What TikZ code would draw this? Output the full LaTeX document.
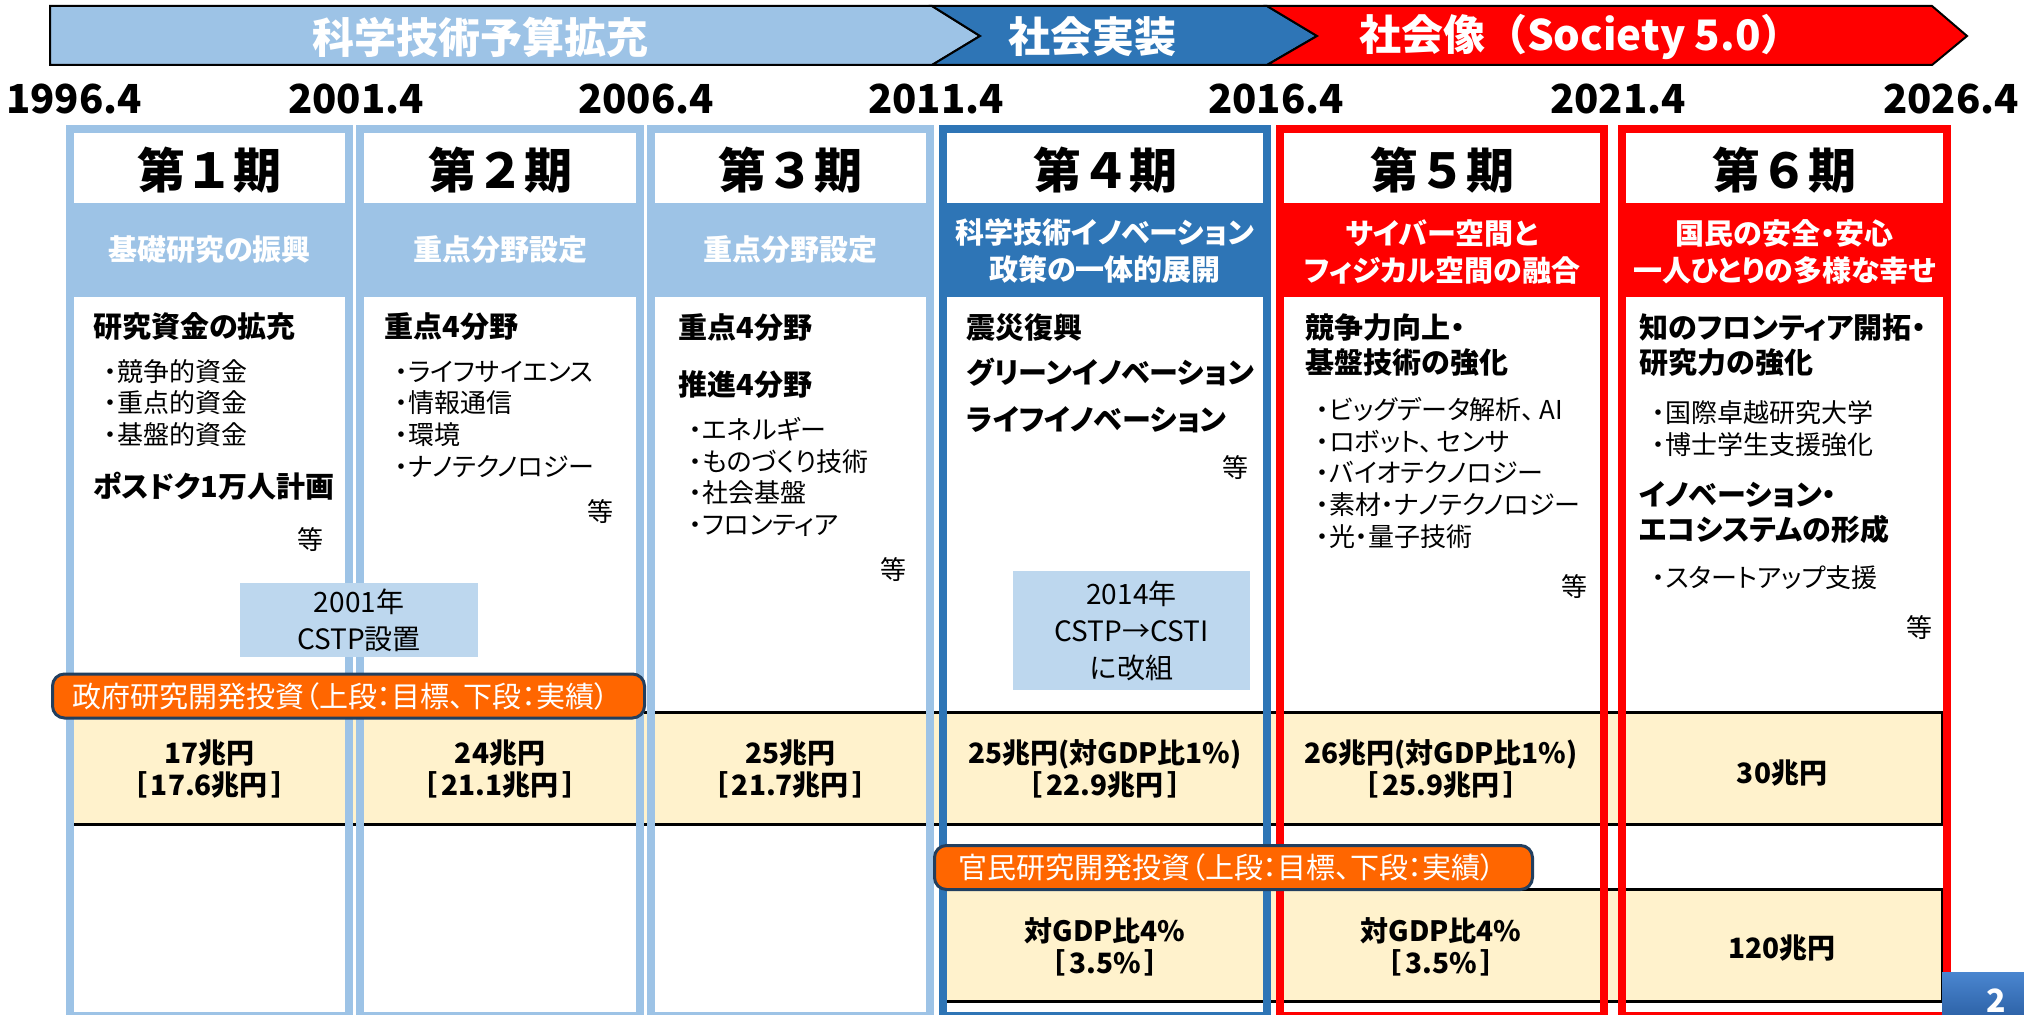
\documentclass[tikz,border=0pt]{standalone}
\usepackage{fontspec}
\setmainfont{Noto Sans CJK JP}
\newfontfamily\jp{Noto Sans CJK JP}[RawFeature=+palt]
\definecolor{lb}{HTML}{9DC3E6}
\definecolor{db}{HTML}{2E75B6}
\definecolor{rd}{HTML}{FF0000}
\definecolor{yel}{HTML}{FFF2CC}
\definecolor{org}{HTML}{FF6600}
\definecolor{navy}{HTML}{223F5F}
\definecolor{cbx}{HTML}{BDD7EE}
\definecolor{pgtop}{HTML}{4A86D0}
\definecolor{pgbot}{HTML}{2E63A8}
\newcommand\bsp{\hspace{2pt}}
\tikzset{
  banner/.style={draw=black, line width=1pt, line join=miter},
  bantext/.style={text=white, font=\fontsize{21}{21}\selectfont\bfseries, inner sep=0},
  year/.style={font=\fontsize{20}{20}\selectfont\bfseries, inner sep=0},
  ttl/.style={font=\fontsize{24}{24}\selectfont\bfseries, inner sep=0},
  subt/.style={text=white, font=\jp\fontsize{14.5}{18.5}\selectfont\bfseries, align=center, inner sep=0},
  hd/.style={font=\jp\fontsize{14.5}{17}\selectfont\bfseries, inner sep=0, anchor=base west},
  itm/.style={font=\jp\fontsize{13}{16}\selectfont, inner sep=0, anchor=base west},
  etc/.style={font=\jp\fontsize{13}{16}\selectfont, inner sep=0},
  cbox/.style={fill=cbx, font=\jp\fontsize{14}{18.5}\selectfont, align=center, inner sep=0},
  olab/.style={draw=navy, line width=1.5pt, fill=org, rounded corners=6pt, text=white,
    font=\jp\fontsize{14.5}{16}\selectfont, anchor=west, align=left, minimum height=22pt, inner ysep=0},
  val/.style={font=\fontsize{14}{16}\selectfont\bfseries, align=center, inner sep=0},
  yrow/.style={fill=yel, draw=black, line width=1.5pt},
}
\begin{document}
\begin{tikzpicture}[x=0.5pt,y=-0.5pt]
\useasboundingbox (0,0) rectangle (2024,1015);
\fill[white] (0,0) rectangle (2024,1015);

% ---- banner ----
\path[banner, fill=lb] (50,6) -- (932,6) -- (980,36) -- (932,65) -- (50,65) -- cycle;
\path[banner, fill=db] (932,6) -- (1267,6) -- (1317,36) -- (1267,65) -- (932,65) -- (980,36) -- cycle;
\path[banner, fill=rd] (1267,6) -- (1932,6) -- (1967,36) -- (1932,65) -- (1267,65) -- (1317,36) -- cycle;
\node[bantext] (ban1) at (480,37) {科学技術予算拡充};
\node[bantext] (ban2) at (1092,37) {社会実装};
\node[bantext] (ban3) at (1581,37) {社会像（Society 5.0）};

% ---- years ----
\node[year] (y1) at (74,99) {1996.4};
\node[year] (y2) at (356,99) {2001.4};
\node[year] (y3) at (646,99) {2006.4};
\node[year] (y4) at (936,99) {2011.4};
\node[year] (y5) at (1276,99) {2016.4};
\node[year] (y6) at (1618,99) {2021.4};
\node[year] (y7) at (1951,99) {2026.4};

% ---- period columns ----
\foreach \xl/\xr/\c in {66/353/lb,356/644/lb,647/934/lb,939/1271/db,1276/1608/rd,1618/1951/rd}{
  \fill[\c] (\xl,125) rectangle (\xr,1030);
  \fill[white] (\xl+8,133) rectangle (\xr-8,203);
  \fill[white] (\xl+8,297) rectangle (\xr-8,1012);
}

% ---- budget rows ----
\draw[yrow] (70,712) rectangle (1942,824);
\draw[yrow] (943,889) rectangle (1942,1001);

% column side strips over the rows
\foreach \xl/\xr/\c in {66/353/lb,356/644/lb,647/934/lb,939/1271/db,1276/1608/rd,1618/1951/rd}{
  \fill[\c] (\xl,125) rectangle (\xl+8,1030);
  \fill[\c] (\xr-8,125) rectangle (\xr,1030);
}

% ---- titles ----
\node[ttl] (t1) at (209.5,170) {第１期};
\node[ttl] (t2) at (500,170) {第２期};
\node[ttl] (t3) at (790.5,170) {第３期};
\node[ttl] (t4) at (1105,170) {第４期};
\node[ttl] (t5) at (1442,170) {第５期};
\node[ttl] (t6) at (1784.5,170) {第６期};

% ---- subtitles ----
\node[subt] (s1) at (209.5,250) {基礎研究の振興};
\node[subt] (s2) at (500,250) {重点分野設定};
\node[subt] (s3) at (790.5,250) {重点分野設定};
\node[subt] (s4) at (1105,251) {科学技術イノベーション\\政策の一体的展開};
\node[subt] (s5) at (1442,252) {サイバー空間と\\フィジカル空間の融合};
\node[subt] (s6) at (1784.5,252) {国民の安全・安心\\一人ひとりの多様な幸せ};

% ---- column 1 ----
\node[hd] (c1h1) at (93,338) {研究資金の拡充};
\node[itm] (c1i1) at (104,382) {・競争的資金};
\node[itm] (c1i2) at (104,413) {・重点的資金};
\node[itm] (c1i3) at (104,445) {・基盤的資金};
\node[hd] (c1h2) at (93,498) {ポスドク1万人計画};
\node[etc] (c1e) at (310,540) {等};

% ---- column 2 ----
\node[hd] (c2h1) at (384,338) {重点4分野};
\node[itm] (c2i1) at (395,382) {・ライフサイエンス};
\node[itm] (c2i2) at (395,413) {・情報通信};
\node[itm] (c2i3) at (395,445) {・環境};
\node[itm] (c2i4) at (395,477) {・ナノテクノロジー};
\node[etc] (c2e) at (600,512) {等};

% ---- column 3 ----
\node[hd] (c3h1) at (678,339) {重点4分野};
\node[hd] (c3h2) at (678,396) {推進4分野};
\node[itm] (c3i1) at (689,440) {・エネルギー};
\node[itm] (c3i2) at (689,472) {・ものづくり技術};
\node[itm] (c3i3) at (689,503) {・社会基盤};
\node[itm] (c3i4) at (689,535) {・フロンティア};
\node[etc] (c3e) at (893,570) {等};

% ---- column 4 ----
\node[hd] (c4h1) at (966,339) {震災復興};
\node[hd] (c4h2) at (966,384) {グリーンイノベーション};
\node[hd] (c4h3) at (966,431) {ライフイノベーション};
\node[etc] (c4e) at (1235,468) {等};

% ---- column 5 ----
\node[hd] (c5h1) at (1305,339) {競争力向上・};
\node[hd] (c5h2) at (1305,374) {基盤技術の強化};
\node[itm] (c5i1) at (1316,420) {・ビッグデータ解析、\,AI};
\node[itm] (c5i2) at (1316,452) {・ロボット、\,センサ};
\node[itm] (c5i3) at (1316,483) {・バイオテクノロジー};
\node[itm] (c5i4) at (1316,515) {・素材・ナノテクノロジー};
\node[itm] (c5i5) at (1316,547) {・光・量子技術};
\node[etc] (c5e) at (1574,587) {等};

% ---- column 6 ----
\node[hd] (c6h1) at (1639,339) {知のフロンティア開拓・};
\node[hd] (c6h2) at (1639,374) {研究力の強化};
\node[itm] (c6i1) at (1652,423) {・国際卓越研究大学};
\node[itm] (c6i2) at (1652,455) {・博士学生支援強化};
\node[hd] (c6h3) at (1639,506) {イノベーション・};
\node[hd] (c6h4) at (1639,541) {エコシステムの形成};
\node[itm] (c6i3) at (1652,588) {・スタートアップ支援};
\node[etc] (c6e) at (1919,628) {等};

% ---- CSTP boxes ----
\node[cbox, minimum width=119pt, minimum height=37pt] (cstp1) at (359,620) {2001年\\CSTP設置};
\node[cbox, minimum width=118.5pt, minimum height=59.5pt] (cstp2) at (1131.5,630.5) {2014年\\CSTP→CSTI\\に改組};

% ---- labels ----
\node[olab, text width=276pt, inner xsep=10pt] (lab1) at (51,696) {政府研究開発投資（上段：目標、下段：実績）};
\node[olab, text width=275pt, inner xsep=12pt] (lab2) at (933,867.5) {官民研究開発投資（上段：目標、下段：実績）};

% ---- values row 1 ----
\node[val] (v1) at (209.5,769) {17兆円\\［\bsp 17.6兆円\bsp］};
\node[val] (v2) at (500,769) {24兆円\\［\bsp 21.1兆円\bsp］};
\node[val] (v3) at (790.5,769) {25兆円\\［\bsp 21.7兆円\bsp］};
\node[val] (v4) at (1105,769) {25兆円(対GDP比1\%)\\［\bsp 22.9兆円\bsp］};
\node[val] (v5) at (1441,769) {26兆円(対GDP比1\%)\\［\bsp 25.9兆円\bsp］};
\node[val] (v6) at (1782,773) {30兆円};

% ---- values row 2 ----
\node[val] (w4) at (1105,947) {対GDP比4\%\\［\bsp 3.5\%\bsp］};
\node[val] (w5) at (1441,947) {対GDP比4\%\\［\bsp 3.5\%\bsp］};
\node[val] (w6) at (1782,948) {120兆円};

% ---- page number ----
\shade[top color=pgtop, bottom color=pgbot] (1942,972) rectangle (2024,1016);
\node[text=white, font=\fontsize{16}{16}\selectfont\bfseries, inner sep=0, anchor=base] (pg) at (1996,1012) {2};
\end{tikzpicture}
\end{document}
